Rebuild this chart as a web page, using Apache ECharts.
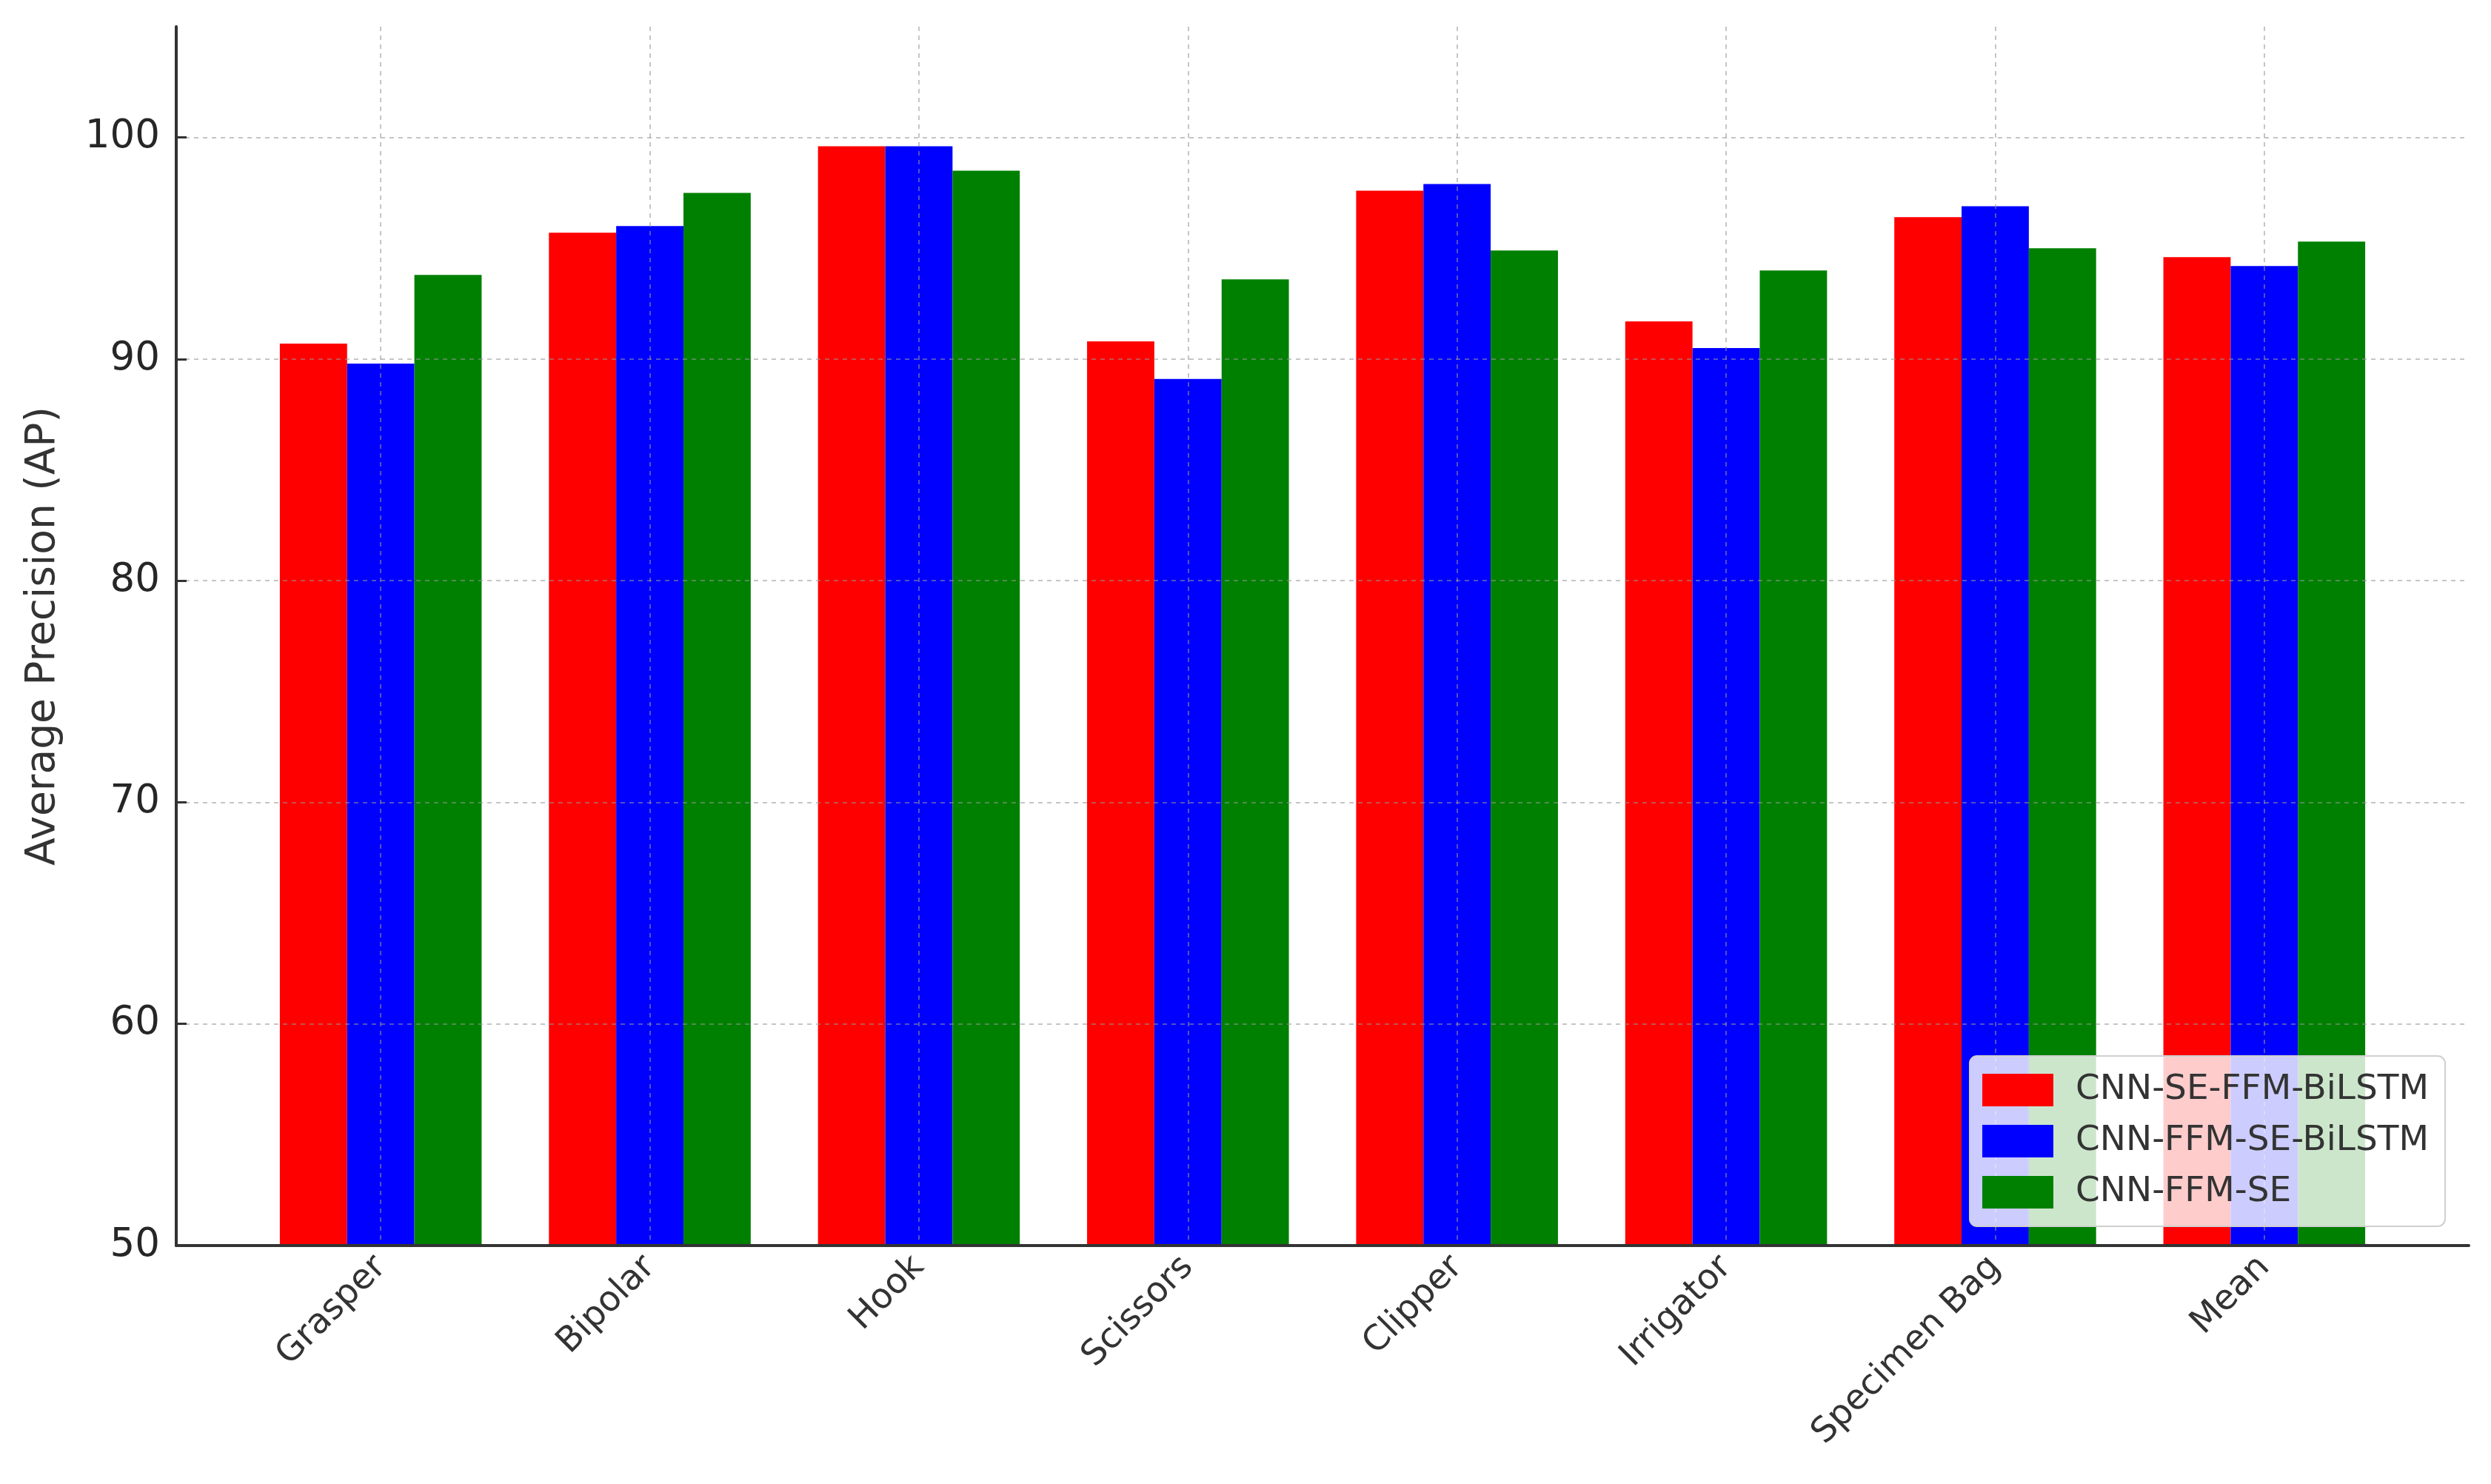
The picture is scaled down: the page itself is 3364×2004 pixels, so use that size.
<!DOCTYPE html>
<html><head><meta charset="utf-8">
<script src="https://cdn.jsdelivr.net/npm/echarts@6/dist/echarts.min.js"></script>
<style>html,body{margin:0;padding:0;background:#fff}#c{width:3364px;height:2004px}</style>
</head><body><div id="c"></div>
<script>
const categories = ['Grasper', 'Bipolar', 'Hook', 'Scissors', 'Clipper', 'Irrigator', 'Specimen Bag', 'Mean'];
const seriesNames = ['CNN-SE-FFM-BiLSTM', 'CNN-FFM-SE-BiLSTM', 'CNN-FFM-SE'];
const cnnSeFfmBilstm = [90.7, 95.7, 99.6, 90.8, 97.6, 91.7, 96.4, 94.6];
const cnnFfmSeBilstm = [89.8, 96.0, 99.6, 89.1, 97.9, 90.5, 96.9, 94.2];
const cnnFfmSe = [93.8, 97.5, 98.5, 93.6, 94.9, 94.0, 95.0, 95.3];
const yTicks = [50, 60, 70, 80, 90, 100];
const xTicks = categories.map((c, i) => i);
const colors = ['#ff0000', '#0000ff', '#008000'];
const allSeries = [cnnSeFfmBilstm, cnnFfmSeBilstm, cnnFfmSe];

const font = 'DejaVu Sans';
const gridLine = { show: true, lineStyle: { type: [6, 6], color: 'rgba(150,150,150,0.55)', width: 2 } };

const chart = echarts.init(document.getElementById('c'), null, { renderer: 'canvas' });
chart.setOption({
  animation: false,
  backgroundColor: '#ffffff',
  textStyle: { fontFamily: font },
  grid: { left: 238, right: 30, top: 36, bottom: 322, containLabel: false },
  legend: {
    orient: 'vertical',
    left: 2660, top: 1426,
    z: 10,
    icon: 'rect',
    itemWidth: 96, itemHeight: 44, itemGap: 13,
    padding: [18, 22, 18, 17],
    backgroundColor: 'rgba(255,255,255,0.8)',
    borderColor: '#d0d0d0', borderWidth: 2, borderRadius: 10,
    textStyle: { fontFamily: font, fontSize: 47, color: '#333', lineHeight: 56, padding: [0, 0, 0, 25] },
    data: seriesNames
  },
  xAxis: {
    type: 'value', min: -0.76, max: 7.76, z: 5,
    axisLine: { show: true, onZero: false, lineStyle: { color: '#333', width: 4 } },
    axisTick: { show: false, customValues: xTicks },
    axisLabel: {
      customValues: xTicks,
      formatter: v => categories[Math.round(v)],
      rotate: 45, fontFamily: font, fontSize: 47, color: '#333', margin: 22
    },
    splitLine: gridLine
  },
  yAxis: {
    type: 'value', min: 50, max: 105, interval: 10, z: 5,
    name: 'Average Precision (AP)', nameLocation: 'middle', nameGap: 152,
    nameTextStyle: { fontFamily: font, fontSize: 55, color: '#333' },
    axisLine: { show: true, onZero: false, lineStyle: { color: '#333', width: 4 } },
    axisTick: { show: true, inside: true, length: 14, customValues: yTicks, lineStyle: { color: '#333', width: 3 } },
    axisLabel: { customValues: yTicks, fontFamily: font, fontSize: 53, color: '#262626', margin: 22 },
    splitLine: gridLine
  },
  series: allSeries.map((vals, k) => ({
    type: 'bar',
    name: seriesNames[k],
    barWidth: '25%',
    barGap: '0%',
    itemStyle: { color: colors[k] },
    data: vals.map((v, i) => [i, v])
  }))
});
</script></body></html>
